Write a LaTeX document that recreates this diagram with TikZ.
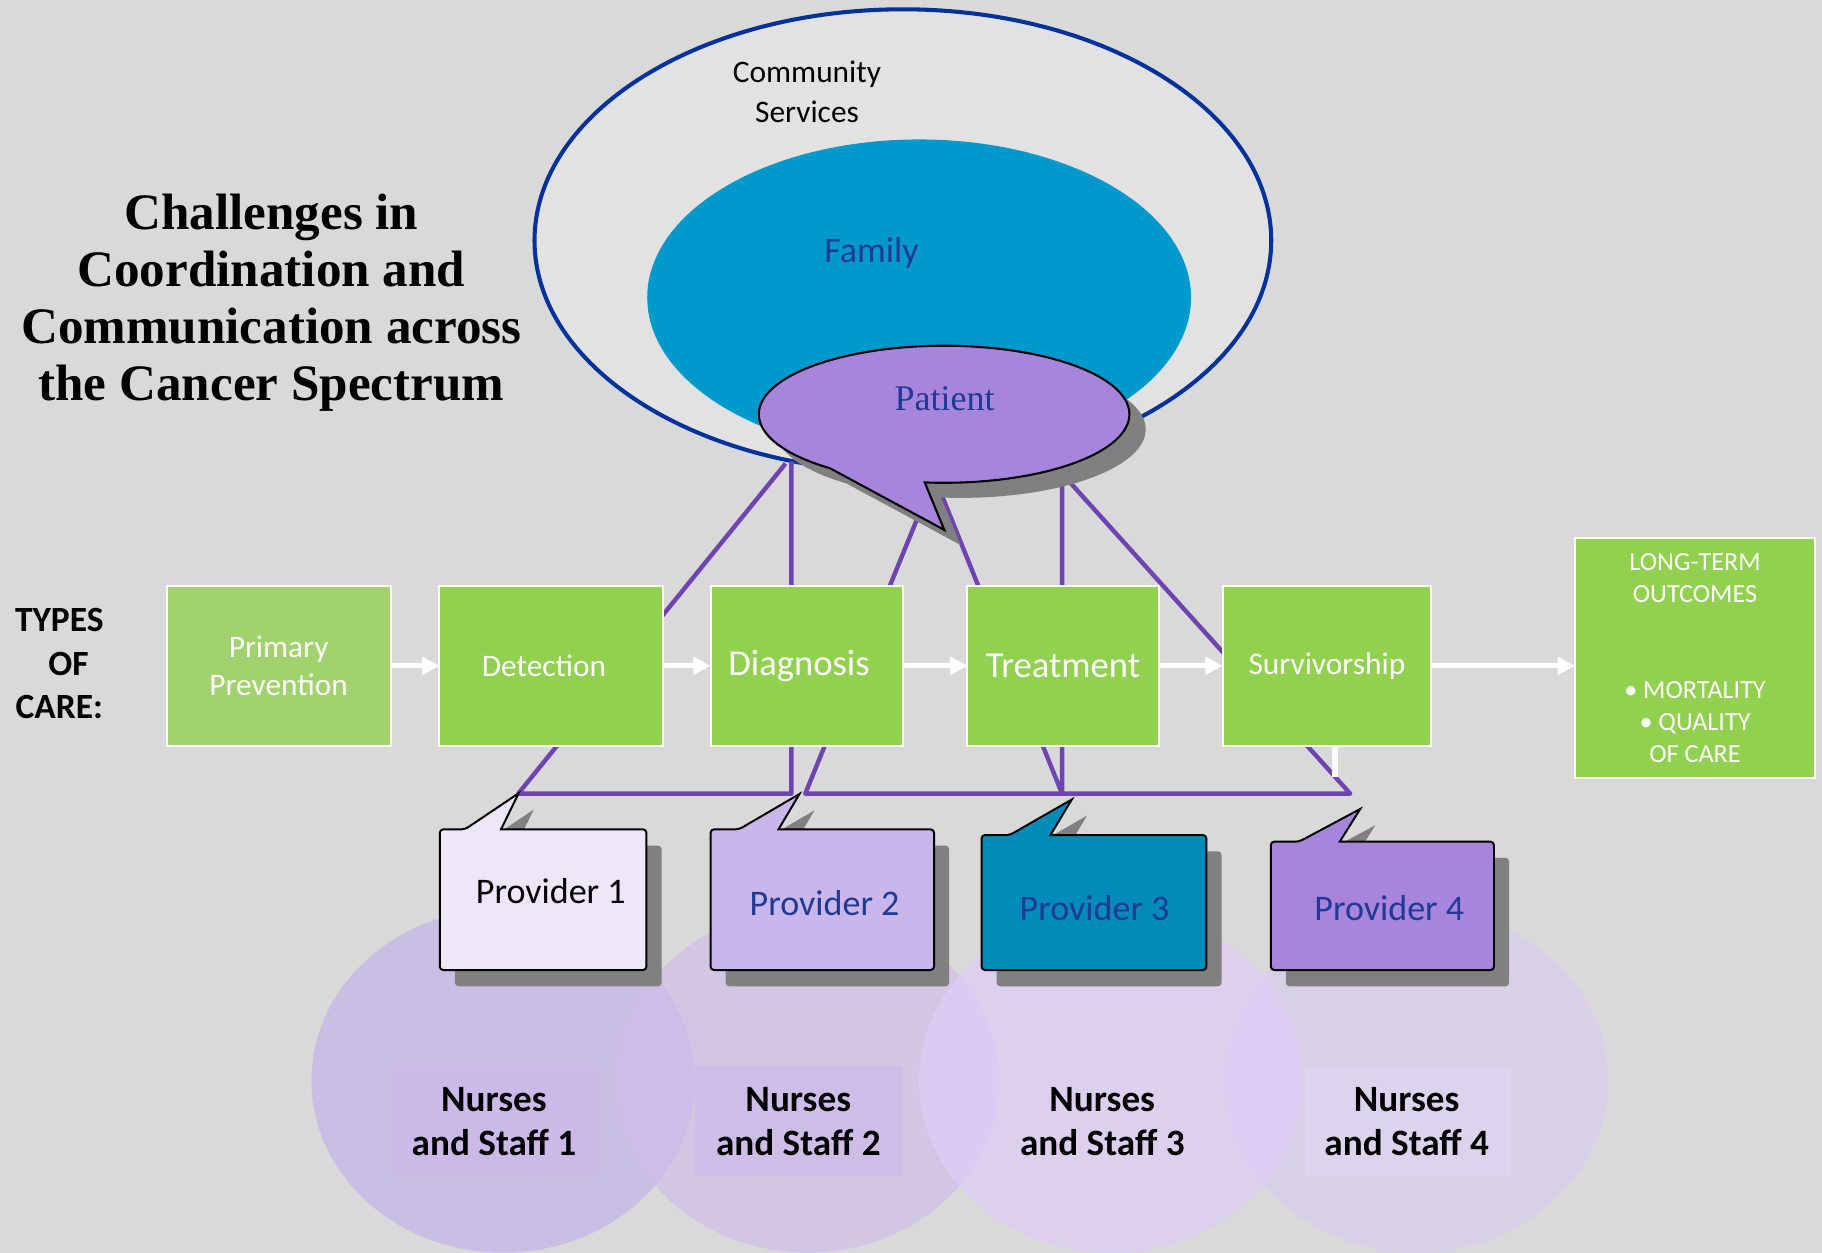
\documentclass[tikz,border=0pt]{standalone}
\usepackage{fontspec}
\setsansfont{Carlito}
\newfontfamily\titleserif{Liberation Serif}
\usetikzlibrary{arrows.meta}
\definecolor{backgray}{HTML}{D9D9D9}
\definecolor{commfill}{HTML}{E2E2E2}
\definecolor{commline}{HTML}{03329A}
\definecolor{familyblue}{HTML}{0099CC}
\definecolor{patientviolet}{HTML}{A785DD}
\definecolor{darkblue}{HTML}{1F3A93}
\definecolor{linkviolet}{HTML}{6E45B0}
\definecolor{caregreen}{HTML}{92D050}
\definecolor{prevgreen}{HTML}{A2D26E}
\definecolor{shadowgray}{HTML}{808080}
\definecolor{provA}{HTML}{EEE7F8}
\definecolor{provB}{HTML}{C9B6EA}
\definecolor{provC}{HTML}{008BB8}
\definecolor{provD}{HTML}{A785DD}
\definecolor{staffA}{HTML}{C6B3EA}
\definecolor{staffB}{HTML}{D0BFE9}
\definecolor{staffC}{HTML}{DFCDF7}
\definecolor{staffD}{HTML}{D9CCEE}
\definecolor{labelA}{HTML}{CBBAE8}
\definecolor{labelB}{HTML}{CDBDE7}
\definecolor{labelD}{HTML}{DCD3EC}
\newcommand{\sizept}[2]{\fontsize{#1}{#2}\selectfont}

\tikzset{
  carebox/.style={draw=white, line width=1.7pt, fill=caregreen, text=white, inner sep=0pt, outer sep=0pt, minimum height=137.4pt, align=center},
  careflow/.style={draw=white, line width=4.5pt, -{Triangle[length=15pt,width=15pt]}},
  patientlink/.style={draw=linkviolet, line width=3.8pt, line join=round},
  provtext/.style={font=\sffamily\sizept{31}{37}},
  stafftext/.style={font=\sffamily\bfseries\sizept{32}{38}, align=center}
}

\begin{document}
\begin{tikzpicture}[x=1pt, y=-1pt]
    \useasboundingbox (0,0) rectangle (1568,1078.3);
    \fill[backgray] (0,0) rectangle (1568,1078.3);

    % title and side label
    \node[font=\titleserif\bfseries\sizept{44}{49.3}, align=center] (title) at (233.5,260.5) {Challenges in\\Coordination and\\Communication across\\the Cancer Spectrum};
    \node[font=\sffamily\bfseries\sizept{30.5}{37.3}, align=center] (types) at (51,571) {TYPES\\\hspace*{16pt}OF\\CARE:};

    % community and family
    \draw[commline, fill=commfill, line width=3.5pt] (777,207) ellipse [x radius=317pt, y radius=199pt];
    \fill[familyblue] (791,256) ellipse [x radius=234pt, y radius=136pt];
    \node[font=\sffamily\sizept{27}{34.5}, align=center] (community) at (694.5,79) {Community\\Services};
    \node[font=\sffamily\sizept{31}{37}, text=darkblue] (family) at (750,217.5) {Family};

    % lines from the patient
    \coordinate (pA) at (676,399);
    \coordinate (pB) at (681,397);
    \coordinate (pC) at (796,430);
    \coordinate (pD) at (808,420);
    \coordinate (pE) at (914,405);
    \coordinate (pF) at (918,412);
    \coordinate (busL) at (446,683);
    \coordinate (busM) at (681,683);
    \coordinate (busN) at (693,683);
    \coordinate (busT) at (914,683);
    \coordinate (busR) at (1162,683);
    \draw[patientlink] (pA) -- (busL) -- (busM) -- (pB);
    \draw[patientlink] (pC) -- (busN) -- (busR) -- (pF);
    \draw[patientlink] (pD) -- (busT) -- (pE);

    % patient
    \fill[shadowgray, shift={(14,13)}] (812.6,456) -- plot[domain=128:456, samples=90] ({812.5+159.5*cos(\x)}, {356.5+59*sin(\x)}) -- cycle;
    \draw[fill=patientviolet, line width=1.8pt] (812.6,456) -- plot[domain=128:456, samples=90] ({812.5+159.5*cos(\x)}, {356.5+59*sin(\x)}) -- cycle;
    \node[font=\titleserif\sizept{31}{37}, text=darkblue] (patient) at (813,343) {Patient};

    % types of care
    \node[carebox, fill=prevgreen, minimum width=192.8pt, font=\sffamily\sizept{27}{33}] (prev) at (239.8,573) {Primary\\Prevention};
    \node[carebox, minimum width=192.3pt, font=\sffamily\sizept{27}{33}] (detect) at (474.2,573) {Detection\hspace*{12pt}};
    \node[carebox, minimum width=165.2pt, font=\sffamily\sizept{31.5}{38}] (diag) at (694.2,573) {Diagnosis\hspace*{13pt}};
    \node[carebox, minimum width=164.5pt, font=\sffamily\sizept{31.5}{38}] (treat) at (914.75,573) {Treatment};
    \node[carebox, minimum width=179.3pt, font=\sffamily\sizept{27}{33}] (surv) at (1141.9,573) {Survivorship};
    \node[carebox, minimum width=206.6pt, minimum height=206pt, font=\sffamily\sizept{22.5}{27.7}] (outcome) at (1458.7,566.3) {LONG-TERM\\OUTCOMES\\[55pt]\textbullet\ MORTALITY\\\textbullet\ QUALITY\\OF CARE};

    \draw[careflow] (prev) -- (detect);
    \draw[careflow] (detect) -- (diag);
    \draw[careflow] (diag) -- (treat);
    \draw[careflow] (treat) -- (surv);
    \draw[careflow] (surv.east) -- (surv.east -| outcome.west);
    \draw[white, line width=5pt] ([xshift=6.7pt]surv.south) -- ++(0,26.7);

    % nurses and staff
    \foreach \cx/\cc in {433/staffA, 695/staffB, 1219/staffD, 956/staffC}
        \fill[\cc, fill opacity=0.7] (\cx,930) ellipse [x radius=165pt, y radius=148pt];
    \fill[labelA] (336.5,917.4) rectangle (515.5,1011.8);
    \fill[labelB] (598.5,917.4) rectangle (777,1011.8);
    \fill[labelD] (1123,917.4) rectangle (1300,1011.8);
    \foreach \n/\nx in {1/425.1, 2/687, 3/948.6, 4/1210.6}
        \node[stafftext] (staff\n) at (\nx,965) {Nurses\\and Staff \n};

    % providers
    \foreach \n/\xa/\ya/\xb/\yb/\ta/\tb/\tx/\ty/\fc/\lx/\ly/\lc in {
        1/378.5/713.7/556.3/834.8/400.2/431.2/446.3/682.7/provA/474/767/black,
        2/611.5/713.7/803.8/834.8/636/670/688/683.3/provB/709.6/777.4/darkblue,
        3/844.7/718.6/1038.2/834.8/869/904/922.4/688/provC/942/781.7/darkblue,
        4/1093.6/724.3/1285.7/834.8/1118/1153/1170.6/696.2/provD/1195.6/781.7/darkblue}
    {
        \fill[shadowgray, shift={(13,14)}] (\ta,\ya) -- (\tx,\ty) -- (\tb,\ya) [rounded corners=3pt] -- (\xb,\ya) -- (\xb,\yb) -- (\xa,\yb) -- (\xa,\ya) -- cycle;
        \draw[fill=\fc, line width=1.7pt] (\ta,\ya) -- (\tx,\ty) -- (\tb,\ya) [rounded corners=3pt] -- (\xb,\ya) -- (\xb,\yb) -- (\xa,\yb) -- (\xa,\ya) -- cycle;
        \node[provtext, text=\lc] (prov\n) at (\lx,\ly) {Provider \n};
    }

\end{tikzpicture}
\end{document}
